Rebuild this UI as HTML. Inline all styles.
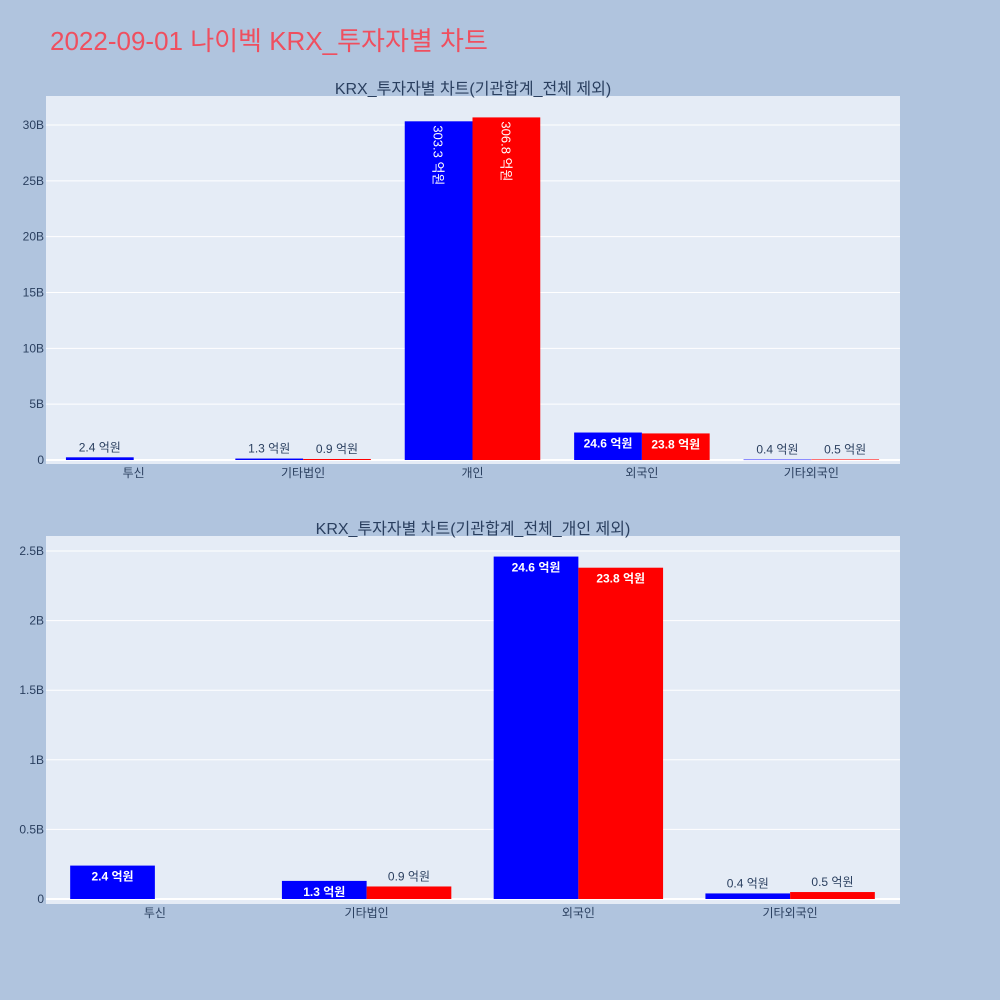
<!DOCTYPE html>
<html><head><meta charset="utf-8">
<style>
body{margin:0;background:#b0c4de;}
svg{display:block;font-family:"Liberation Sans","Noto Sans CJK KR",sans-serif;}
</style></head>
<body>
<svg id="chart" width="1000" height="1000" xmlns="http://www.w3.org/2000/svg">
<rect width="1000" height="1000" fill="#b0c4de"/>
<text x="50" y="50" font-size="26" fill="#ef4f5f">2022-09-01 나이벡 KRX_투자자별 차트</text>
</svg>
<script>
const topCategories = ['투신','기타법인','개인','외국인','기타외국인'];
const topBlue = [0.24, 0.13, 30.33, 2.46, 0.04];
const topRed = [null, 0.09, 30.68, 2.38, 0.05];
const topTicks = [0,5,10,15,20,25,30];
const topTickLabels = ['0','5B','10B','15B','20B','25B','30B'];
const botCategories = ['투신','기타법인','외국인','기타외국인'];
const botBlue = [0.24, 0.13, 2.46, 0.04];
const botRed = [null, 0.09, 2.38, 0.05];
const botTicks = [0,0.5,1,1.5,2,2.5];
const botTickLabels = ['0','0.5B','1B','1.5B','2B','2.5B'];

const svg = document.getElementById('chart');
const NS = 'http://www.w3.org/2000/svg';
function mk(tag, attrs, parent){const e=document.createElementNS(NS,tag);for(const k in attrs)e.setAttribute(k,attrs[k]);(parent||svg).appendChild(e);return e;}

function panel(cfg){
  const {x0,x1,y0,y1,zeroY,maxV,maxY,cats,blue,red,ticks,tickLabels,title,name}=cfg;
  const g = mk('g',{});
  
  
  const bg = mk('rect',{x:x0,y:y0,width:x1-x0,height:y1-y0,fill:'#e5ecf6'},g);
  
  
  const yS = v => zeroY - (zeroY-maxY)*v/maxV;
  const left=49,right=896, step=(right-left)/cats.length;
  const xC = i => left + step*(i+0.5);
  const bw = step*0.4;
  ticks.forEach((t,i)=>{
    const gl = mk('line',{x1:x0,x2:x1,y1:yS(t),y2:yS(t),stroke:'#fff','stroke-width':t===0?2:1},g);
    
    
    const tl = mk('text',{x:x0-2,y:yS(t)+4,'text-anchor':'end','font-size':12,fill:'#2a3f5f'},g);
    tl.textContent = tickLabels[i];
    
    
  });
  const fmt = v => (v*10).toFixed(1)+' 억원';
  function bar(v,i,color,off,series){
    if(v==null) return;
    const bx = xC(i)+off, top=yS(v), h=zeroY-top;
    const r = mk('rect',{x:bx,y:top,width:bw,height:Math.max(h,0.5),fill:color},g);
    
    
    const t = mk('text',{'font-size':12},g);
    
    
    t.textContent = fmt(v);
    const cx = bx+bw/2;
    if(h>150 && cfg.rotate){
      t.setAttribute('transform',`translate(${cx-5},${top+4}) rotate(90)`);
      t.setAttribute('fill','#fff');t.setAttribute('font-size','13');
    } else if(h>18){
      t.setAttribute('x',cx);t.setAttribute('y',top+15);t.setAttribute('text-anchor','middle');
      t.setAttribute('fill','#fff');t.setAttribute('font-weight','bold');
    } else {
      t.setAttribute('x',cx);t.setAttribute('y',top-6);t.setAttribute('text-anchor','middle');
      t.setAttribute('fill','#2a3f5f');
    }
  }
  cats.forEach((c,i)=>{
    bar(blue[i],i,'#0000ff',-bw,'blue');
    bar(red[i],i,'#ff0000',0,'red');
    const cl = mk('text',{x:xC(i),y:y1+13,'text-anchor':'middle','font-size':12,fill:'#2a3f5f'},g);
    cl.textContent=c;
    
    
  });
  const tt = mk('text',{x:473,y:y0-2,'text-anchor':'middle','font-size':16,fill:'#2a3f5f'},g);
  tt.textContent=title;
  
  
}
panel({x0:46,x1:900,y0:96,y1:464,zeroY:460,maxV:30,maxY:125,cats:topCategories,blue:topBlue,red:topRed,ticks:topTicks,tickLabels:topTickLabels,title:'KRX_투자자별 차트(기관합계_전체 제외)',name:'top-chart',rotate:true});
panel({x0:46,x1:900,y0:536,y1:904,zeroY:899,maxV:2.5,maxY:551,cats:botCategories,blue:botBlue,red:botRed,ticks:botTicks,tickLabels:botTickLabels,title:'KRX_투자자별 차트(기관합계_전체_개인 제외)',name:'bottom-chart',rotate:false});
</script>
</body></html>
